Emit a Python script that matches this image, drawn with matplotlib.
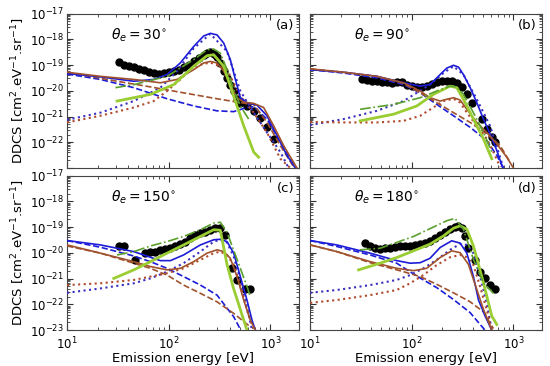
import numpy as np
import matplotlib.pyplot as plt
from matplotlib.ticker import LogLocator, NullFormatter, FixedLocator, FixedFormatter

# DDCS values are stored as log10 exponents (cm^2 eV^-1 sr^-1), energies in eV

# ---------------- panel (a): theta_e = 30 deg ----------------
a_exp_E = [32.2, 36.1, 40.4, 45.3, 50.7, 56.8, 63.6, 71.1, 79.7, 89.3, 100, 112, 125, 140, 157, 176, 197,
           221, 238, 257, 277, 299, 322, 348, 375, 404, 436, 470, 507, 589, 686, 797, 927, 1078]
a_exp_D = [-18.90, -18.99, -19.03, -19.08, -19.14, -19.21, -19.28, -19.32, -19.35, -19.31, -19.28, -19.24,
           -19.18, -19.08, -18.99, -18.86, -18.73, -18.60, -18.54, -18.51, -18.56, -18.67, -18.92, -19.24,
           -19.50, -19.76, -20.01, -20.31, -20.46, -20.59, -20.78, -21.04, -21.42, -21.87]
a_bs_E = [10, 21.3, 45.3, 71.1, 96.3, 130, 176, 221, 257, 299, 348, 404, 453, 507, 589, 739, 927, 1164, 1459, 1762]
a_bs_D = [-19.33, -19.46, -19.63, -19.56, -19.37, -18.92, -18.28, -17.87, -17.77, -17.83, -18.15, -18.79,
          -19.56, -20.27, -20.46, -20.56, -20.97, -21.74, -22.51, -23.0]
a_bd_E = [10, 21.3, 45.3, 96.3, 176, 299, 436, 589, 686, 927, 1254, 1698]
a_bd_D = [-19.35, -19.56, -19.88, -20.31, -20.59, -20.78, -20.81, -20.65, -20.62, -21.10, -22.00, -22.90]
a_bo_E = [10, 21.3, 45.3, 82.8, 121, 176, 257, 375, 507, 686, 927, 1254, 1514]
a_bo_D = [-21.13, -20.85, -20.40, -19.88, -19.24, -18.35, -17.79, -18.47, -20.01, -20.85, -21.62, -22.38, -23.0]
a_rs_E = [10, 21.3, 45.3, 82.8, 121, 176, 221, 257, 299, 348, 404, 470, 547, 686, 859, 1078, 1352, 1829]
a_rs_D = [-19.28, -19.44, -19.56, -19.69, -19.56, -19.18, -18.92, -18.86, -18.92, -19.24, -19.76, -20.27,
          -20.44, -20.49, -20.65, -21.36, -22.13, -23.0]
a_rd_E = [10, 31, 66.1, 140, 299, 507, 686, 927, 1254, 1698]
a_rd_D = [-19.28, -19.63, -19.85, -20.08, -20.31, -20.46, -20.53, -21.23, -22.13, -22.96]
a_ro_E = [10, 21.3, 45.3, 71.1, 96.3, 130, 176, 257, 375, 507, 686, 927, 1254, 1574]
a_ro_D = [-21.23, -20.97, -20.65, -20.40, -20.01, -19.56, -19.05, -18.90, -19.18, -20.21, -20.85, -21.62,
          -22.64, -23.0]
a_gd_E = [29.9, 45.3, 96.3, 176, 238, 277, 322, 375, 436, 507, 612]
a_gd_D = [-19.88, -19.76, -19.44, -18.79, -18.41, -18.38, -18.54, -19.18, -19.95, -20.59, -21.10]
a_gs_E = [31, 66.1, 112, 176, 238, 277, 348, 436, 547, 686, 767]
a_gs_D = [-20.40, -20.14, -19.76, -19.05, -18.64, -18.60, -19.05, -20.21, -21.36, -22.38, -22.58]

# ---------------- panel (b): theta_e = 90 deg ----------------
b_exp_E = [32.2, 36.1, 40.4, 45.3, 50.7, 56.8, 63.6, 71.1, 79.7, 89.3, 100, 112, 125, 140, 157, 176, 197,
           221, 247, 277, 310, 348, 389, 488, 547, 612, 660]
b_exp_D = [-19.56, -19.60, -19.63, -19.63, -19.65, -19.67, -19.69, -19.67, -19.65, -19.76, -19.82, -19.85,
           -19.85, -19.82, -19.72, -19.65, -19.63, -19.63, -19.63, -19.69, -19.85, -20.14, -20.46, -21.10,
           -21.49, -21.81, -22.00]
b_bs_E = [10, 21.3, 45.3, 82.8, 121, 151, 190, 221, 257, 288, 322, 375, 436, 507, 589, 686, 785]
b_bs_D = [-19.18, -19.28, -19.44, -19.69, -19.82, -19.76, -19.37, -19.12, -19.01, -19.08, -19.37, -19.88,
          -20.46, -21.10, -21.68, -22.32, -23.0]
b_bd_E = [10, 21.3, 45.3, 82.8, 121, 176, 257, 375, 547, 686, 797]
b_bd_D = [-19.18, -19.31, -19.50, -19.76, -20.08, -20.53, -20.97, -21.42, -21.94, -22.51, -23.0]
b_bo_E = [10, 21.3, 45.3, 82.8, 112, 151, 205, 257, 322, 436, 589, 712, 797]
b_bo_D = [-21.33, -21.10, -20.78, -20.40, -20.08, -19.76, -19.31, -19.05, -19.37, -20.33, -21.36, -22.38, -23.0]
b_rs_E = [10, 21.3, 45.3, 82.8, 121, 151, 190, 221, 257, 299, 348, 436, 547, 686, 859, 1000]
b_rs_D = [-19.15, -19.28, -19.44, -19.69, -20.01, -20.27, -20.40, -20.33, -20.27, -20.36, -20.72, -21.23,
          -21.62, -22.06, -22.58, -23.0]
b_rd_E = [10, 21.3, 45.3, 82.8, 121, 176, 257, 375, 547, 739, 927]
b_rd_D = [-19.15, -19.28, -19.44, -19.72, -20.08, -20.46, -20.85, -21.23, -21.68, -22.13, -22.77]
b_ro_E = [10, 21.3, 45.3, 82.8, 121, 163, 205, 257, 299, 348, 436, 547, 635, 739]
b_ro_D = [-21.21, -21.23, -21.23, -21.17, -20.97, -20.65, -20.40, -20.31, -20.46, -20.85, -21.36, -21.87,
          -22.38, -22.96]
b_gd_E = [31, 66.1, 121, 176, 238, 277, 322, 404, 507, 612]
b_gd_D = [-20.72, -20.53, -20.27, -20.01, -19.82, -19.85, -20.14, -20.85, -21.62, -22.38]
b_gs_E = [31, 66.1, 112, 163, 238, 277, 322, 404, 507, 612]
b_gs_D = [-21.17, -20.91, -20.59, -20.14, -19.82, -19.88, -20.33, -21.10, -21.87, -22.64]

# ---------------- panel (c): theta_e = 150 deg ----------------
c_exp_E = [32.2, 36.6, 47, 58.9, 66.1, 73.9, 82.8, 92.7, 104, 116, 130, 146, 163, 183, 205, 230, 257, 288,
           322, 360, 420, 470, 563, 631]
c_exp_D = [-19.75, -19.75, -20.27, -20.01, -19.95, -19.95, -19.88, -19.86, -19.79, -19.73, -19.65, -19.56,
           -19.43, -19.30, -19.23, -19.17, -19.10, -19.04, -19.04, -19.30, -20.58, -21.05, -21.40, -21.40]
c_bs_E = [10, 21.3, 45.3, 66.1, 82.8, 104, 140, 205, 277, 322, 375, 436, 507, 589, 660, 712]
c_bs_D = [-19.52, -19.69, -19.95, -20.17, -20.30, -20.30, -20.08, -19.69, -19.49, -19.47, -19.56, -20.01,
          -20.92, -21.83, -22.61, -23.0]
c_bd_E = [10, 21.3, 45.3, 66.1, 96.3, 140, 205, 299, 436, 507]
c_bd_D = [-19.52, -19.78, -20.12, -20.34, -20.60, -20.92, -21.25, -21.64, -22.48, -22.97]
c_bo_E = [10, 21.3, 45.3, 66.1, 96.3, 140, 205, 277, 322, 375, 436, 507, 589, 660]
c_bo_D = [-21.55, -21.38, -21.18, -20.99, -20.73, -20.40, -19.95, -19.56, -19.49, -19.60, -20.14, -21.05,
          -22.09, -23.0]
c_rs_E = [10, 21.3, 45.3, 66.1, 96.3, 130, 176, 238, 299, 348, 404, 470, 547, 635, 712]
c_rs_D = [-19.69, -20.01, -20.34, -20.53, -20.66, -20.60, -20.34, -20.01, -19.88, -19.95, -20.21, -20.92,
          -21.83, -22.61, -23.0]
c_rd_E = [10, 21.3, 45.3, 66.1, 96.3, 140, 205, 299, 436, 635]
c_rd_D = [-19.73, -20.01, -20.40, -20.60, -20.86, -21.25, -21.57, -21.90, -22.35, -22.87]
c_ro_E = [10, 21.3, 45.3, 66.1, 96.3, 140, 205, 277, 322, 375, 436, 507, 589, 686]
c_ro_D = [-21.25, -21.18, -21.05, -20.92, -20.79, -20.60, -20.27, -20.01, -19.95, -20.08, -20.47, -21.25,
          -22.22, -23.0]
c_gd_E = [31, 45.3, 66.1, 96.3, 140, 205, 277, 322, 375, 436, 507, 589, 635]
c_gd_D = [-20.08, -19.95, -19.73, -19.56, -19.36, -19.10, -18.84, -18.81, -19.20, -19.90, -20.60, -21.30, -21.70]
c_gs_E = [28.8, 45.3, 66.1, 96.3, 140, 205, 277, 322, 375, 436, 507, 589]
c_gs_D = [-20.99, -20.66, -20.34, -20.01, -19.69, -19.36, -19.10, -19.12, -20.45, -21.40, -22.20, -23.0]

# ---------------- panel (d): theta_e = 180 deg ----------------
d_exp_E = [34.8, 38.9, 43.6, 48.7, 54.7, 61.2, 68.5, 76.7, 85.9, 96.3, 108, 121, 135, 151, 170, 190, 213,
           238, 267, 288, 310, 335, 361, 420, 470, 526, 589, 660]
d_exp_D = [-19.62, -19.75, -19.82, -19.84, -19.82, -19.79, -19.78, -19.75, -19.75, -19.73, -19.69, -19.65,
           -19.60, -19.53, -19.44, -19.31, -19.18, -19.08, -19.01, -18.97, -19.05, -19.36, -19.82, -20.27,
           -20.73, -20.99, -21.25, -21.42]
d_bs_E = [10, 18.3, 38.9, 71.1, 96.3, 121, 151, 190, 247, 299, 348, 404, 453, 526, 612]
d_bs_D = [-19.52, -19.69, -20.01, -20.30, -20.40, -20.38, -20.21, -19.79, -19.53, -19.62, -20.01, -20.92,
          -21.83, -22.45, -23.0]
d_bd_E = [10, 18.3, 38.9, 71.1, 112, 176, 257, 375, 470, 526]
d_bd_D = [-19.52, -19.75, -20.08, -20.40, -20.90, -21.35, -21.81, -22.32, -22.78, -23.0]
d_bo_E = [10, 18.3, 38.9, 71.1, 96.3, 130, 176, 238, 299, 348, 404, 470, 547, 612]
d_bo_D = [-21.55, -21.44, -21.25, -21.05, -20.86, -20.60, -20.27, -19.88, -19.65, -19.69, -20.01, -20.92,
          -21.96, -23.0]
d_rs_E = [10, 18.3, 38.9, 71.1, 104, 140, 190, 247, 299, 360, 436, 507, 612]
d_rs_D = [-19.69, -19.95, -20.34, -20.60, -20.69, -20.60, -20.18, -19.92, -19.99, -20.44, -21.42, -22.19, -23.0]
d_rd_E = [10, 18.3, 38.9, 82.8, 121, 176, 257, 375, 507, 635]
d_rd_D = [-19.69, -19.95, -20.38, -20.73, -20.92, -21.22, -21.55, -21.90, -22.29, -22.94]
d_ro_E = [10, 18.3, 38.9, 71.1, 96.3, 130, 176, 238, 299, 348, 404, 470, 547, 612]
d_ro_D = [-21.94, -21.83, -21.64, -21.44, -21.18, -20.86, -20.47, -20.17, -20.08, -20.17, -20.47, -21.31,
          -22.22, -23.0]
d_gd_E = [31, 48.7, 104, 221, 266, 322, 404, 507, 635]
d_gd_D = [-19.88, -19.82, -19.36, -18.75, -18.66, -19.08, -20.25, -21.16, -21.57]
d_gs_E = [29.9, 48.7, 71.1, 104, 151, 205, 257, 299, 348, 404, 507, 612, 686]
d_gs_D = [-20.66, -20.40, -20.18, -19.92, -19.66, -19.34, -19.04, -18.95, -19.08, -19.73, -21.16, -22.45, -22.78]

angles = [30, 90, 150, 180]
labels = ["(a)", "(b)", "(c)", "(d)"]

blue = "#1c1cd8"
brown = "#a0522d"
styles = {
    "bs": dict(color=blue, ls="-", lw=1.2),
    "bd": dict(color=blue, ls="--", lw=1.2),
    "bo": dict(color="#3a2fc0", ls=":", lw=1.5),
    "rs": dict(color=brown, ls="-", lw=1.2),
    "rd": dict(color=brown, ls="--", lw=1.2),
    "ro": dict(color="#b04a2a", ls=":", lw=1.5),
    "gd": dict(color="#5aa02c", ls="-.", lw=1.2),
    "gs": dict(color="#9acd32", ls="-", lw=2.0),
}

panels = [
    dict(exp=(a_exp_E, a_exp_D), bs=(a_bs_E, a_bs_D), bd=(a_bd_E, a_bd_D), bo=(a_bo_E, a_bo_D),
         rs=(a_rs_E, a_rs_D), rd=(a_rd_E, a_rd_D), ro=(a_ro_E, a_ro_D), gd=(a_gd_E, a_gd_D), gs=(a_gs_E, a_gs_D)),
    dict(exp=(b_exp_E, b_exp_D), bs=(b_bs_E, b_bs_D), bd=(b_bd_E, b_bd_D), bo=(b_bo_E, b_bo_D),
         rs=(b_rs_E, b_rs_D), rd=(b_rd_E, b_rd_D), ro=(b_ro_E, b_ro_D), gd=(b_gd_E, b_gd_D), gs=(b_gs_E, b_gs_D)),
    dict(exp=(c_exp_E, c_exp_D), bs=(c_bs_E, c_bs_D), bd=(c_bd_E, c_bd_D), bo=(c_bo_E, c_bo_D),
         rs=(c_rs_E, c_rs_D), rd=(c_rd_E, c_rd_D), ro=(c_ro_E, c_ro_D), gd=(c_gd_E, c_gd_D), gs=(c_gs_E, c_gs_D)),
    dict(exp=(d_exp_E, d_exp_D), bs=(d_bs_E, d_bs_D), bd=(d_bd_E, d_bd_D), bo=(d_bo_E, d_bo_D),
         rs=(d_rs_E, d_rs_D), rd=(d_rd_E, d_rd_D), ro=(d_ro_E, d_ro_D), gd=(d_gd_E, d_gd_D), gs=(d_gs_E, d_gs_D)),
]

fig = plt.figure(figsize=(5.5, 3.66), dpi=100)
lefts = [0.122, 0.564]
bottoms = [0.541, 0.098]
w, h = 0.421, 0.422

ydecades = [1e-23, 1e-22, 1e-21, 1e-20, 1e-19, 1e-18, 1e-17]
for i, p in enumerate(panels):
    row, col = divmod(i, 2)
    ax = fig.add_axes([lefts[col], bottoms[row], w, h])
    ax.set_xscale("log")
    ax.set_yscale("log")

    E, D = p["exp"]
    ax.plot(E, 10.0 ** np.array(D), "o", color="black", ms=5, zorder=2)
    for key in ["bd", "bo", "rd", "ro", "bs", "rs", "gs", "gd"]:
        E, D = p[key]
        ax.plot(E, 10.0 ** np.array(D), zorder=3, **styles[key])

    ax.set_xlim(10, 1900)
    ax.set_ylim(1e-23, 1e-17)
    ax.yaxis.set_major_locator(FixedLocator(ydecades))
    ax.yaxis.set_minor_locator(LogLocator(base=10, subs=np.arange(2, 10)))
    ax.yaxis.set_minor_formatter(NullFormatter())
    ax.tick_params(which="both", direction="in", top=True, right=True, labelsize=8.5, color="#333333")
    ax.tick_params(which="major", length=4, pad=2.5)
    ax.tick_params(which="minor", length=2)
    ax.tick_params(axis="x", which="major", pad=4)
    for s in ax.spines.values():
        s.set_color("#444444")

    if row == 0:
        ax.tick_params(axis="x", labelbottom=False)
        if col == 0:
            ax.yaxis.set_major_formatter(FixedFormatter(
                [""] + [r"$10^{%d}$" % k for k in range(-22, -16)]))
    else:
        ax.set_xlabel("Emission energy [eV]", fontsize=9.5, labelpad=0)
        if col == 0:
            ax.yaxis.set_major_formatter(FixedFormatter(
                [r"$10^{%d}$" % k for k in range(-23, -16)]))
    if col == 1:
        ax.tick_params(axis="y", labelleft=False)
    else:
        ax.set_ylabel(r"DDCS [cm$^2$.eV$^{-1}$.sr$^{-1}$]", fontsize=9.5, labelpad=2)

    ax.text(0.19, 0.86, r"$\theta_e = %d^{\circ}$" % angles[i], transform=ax.transAxes,
            fontsize=10, va="center", ha="left")
    ax.text(0.98, 0.92, labels[i], transform=ax.transAxes, fontsize=9.5, va="center", ha="right")

fig.savefig("out.png", dpi=100)
